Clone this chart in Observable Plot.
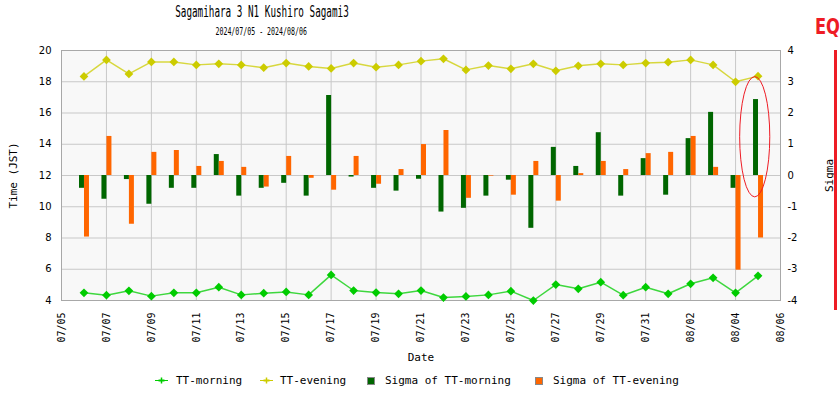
<!DOCTYPE html>
<html>
<head>
<meta charset="utf-8">
<script src="https://cdn.jsdelivr.net/npm/d3@7"></script>
<script src="https://cdn.jsdelivr.net/npm/@observablehq/plot@0.6"></script>
<style>
  html, body { margin: 0; padding: 0; background: #fff; }
  #wrap { position: relative; width: 840px; height: 400px; overflow: hidden; }
  #chart { position: absolute; left: 0; top: 0; }
  .mono { font-family: "DejaVu Sans Mono", monospace; }
  .title { position: absolute; left: 0; width: 523px; text-align: center; white-space: nowrap; color: #000; }
  .title span { display: inline-block; transform: scaleX(0.62); transform-origin: center; }
  #t1 { top: 3px; font-size: 15px; line-height: 18px; }
  #t2 { top: 25px; font-size: 11px; line-height: 13px; }
  #t2 span { transform: scaleX(0.6); }
  #eq { position: absolute; left: 815px; top: 14px; font-family: "DejaVu Sans", sans-serif; font-weight: bold; font-size: 22px; color: #ee1c25; line-height: 26px; transform: scaleX(0.74); transform-origin: left center; white-space: nowrap; }
  #eqbar { position: absolute; left: 834px; top: 50px; width: 3px; height: 260px; background: #ee1c25; }
  .leg { position: absolute; top: 374px; font-family: "DejaVu Sans Mono", monospace; font-size: 11px; line-height: 14px; color: #000; white-space: nowrap; }
  .sw { position: absolute; }
  #chart g[aria-label="x-axis tick label"] text { font-family: "DejaVu Sans Mono", monospace; font-size: 10px; }
  #chart g[aria-label="x-axis label"] text,
  #chart g[aria-label="y-axis label"] text { font-family: "DejaVu Sans Mono", monospace; font-size: 11px; }
</style>
</head>
<body>
<div id="wrap">
  <div id="chart"></div>
  <div class="title mono" id="t1"><span>Sagamihara 3 N1 Kushiro Sagami3</span></div>
  <div class="title mono" id="t2"><span>2024/07/05 - 2024/08/06</span></div>
  <div id="eq">EQ</div>
  <div id="eqbar"></div>
  <div id="legend"></div>
</div>
<script>
// ---- data ----
const dates = [
  "2024-07-06","2024-07-07","2024-07-08","2024-07-09","2024-07-10","2024-07-11","2024-07-12",
  "2024-07-13","2024-07-14","2024-07-15","2024-07-16","2024-07-17","2024-07-18","2024-07-19",
  "2024-07-20","2024-07-21","2024-07-22","2024-07-23","2024-07-24","2024-07-25","2024-07-26",
  "2024-07-27","2024-07-28","2024-07-29","2024-07-30","2024-07-31","2024-08-01","2024-08-02",
  "2024-08-03","2024-08-04","2024-08-05"
];
const ttMorning = [
  4.49, 4.34, 4.62, 4.28, 4.49, 4.49, 4.85, 4.36, 4.47, 4.55, 4.36, 5.64, 4.64, 4.51,
  4.43, 4.64, 4.19, 4.26, 4.36, 4.60, 4.00, 5.02, 4.75, 5.17, 4.34, 4.85, 4.43, 5.07,
  5.45, 4.49, 5.58
];
const ttEvening = [
  18.34, 19.40, 18.50, 19.27, 19.27, 19.08, 19.15, 19.08, 18.90, 19.20, 18.98, 18.85, 19.20, 18.93,
  19.08, 19.32, 19.47, 18.76, 19.04, 18.83, 19.15, 18.70, 19.02, 19.15, 19.08, 19.20, 19.25, 19.40,
  19.08, 18.00, 18.36
];
const sigmaMorning = [
  -0.41, -0.76, -0.13, -0.92, -0.41, -0.41, 0.67, -0.66, -0.41, -0.25, -0.66, 2.56, -0.05, -0.41,
  -0.50, -0.12, -1.17, -1.05, -0.66, -0.15, -1.69, 0.90, 0.29, 1.37, -0.66, 0.54, -0.63, 1.18,
  2.02, -0.41, 2.43
];
const sigmaEvening = [
  -1.97, 1.25, -1.56, 0.74, 0.80, 0.29, 0.45, 0.26, -0.37, 0.61, -0.09, -0.47, 0.61, -0.28,
  0.19, 0.99, 1.44, -0.73, -0.02, -0.63, 0.45, -0.82, 0.06, 0.45, 0.19, 0.70, 0.74, 1.25,
  0.26, -3.03, -2.00
];
const xTicks = [
  "2024-07-05","2024-07-07","2024-07-09","2024-07-11","2024-07-13","2024-07-15","2024-07-17",
  "2024-07-19","2024-07-21","2024-07-23","2024-07-25","2024-07-27","2024-07-29","2024-07-31",
  "2024-08-02","2024-08-04","2024-08-06"
];
const xDomain = ["2024-07-05", "2024-08-06"];
const timeTicks = [4, 6, 8, 10, 12, 14, 16, 18, 20];
const sigmaTicks = [-4, -3, -2, -1, 0, 1, 2, 3, 4];
// EQ annotation (ellipse around the last day's bars)
const eqCenter = "2024-08-04T21:00:00Z";
const eqHalfWidthDays = 0.67;
const eqSigmaRange = [-0.70, 3.15];

// ---- build table ----
const sigmaZeroTime = 12, timePerSigma = 2; // right axis: sigma 0 at 12h, 1 sigma = 2h
const toTime = s => sigmaZeroTime + timePerSigma * s;
const table = dates.map((d, i) => ({
  date: new Date(d),
  morning: ttMorning[i],
  evening: ttEvening[i],
  sm: sigmaMorning[i],
  se: sigmaEvening[i]
}));

const diamond = {
  draw(ctx, size) {
    const h = Math.sqrt(size / Math.PI) * 1.25;
    ctx.moveTo(0, -h); ctx.lineTo(h, 0); ctx.lineTo(0, h); ctx.lineTo(-h, 0); ctx.closePath();
  }
};

const green = "#00cc00", yellow = "#cccc00", dGreen = "#006600", orange = "#ff6600";

const ellipseMark = (index, scales) => {
  const c = new Date(eqCenter);
  const cx = scales.x(c);
  const rx = Math.abs(scales.x(new Date(+c + eqHalfWidthDays * 864e5)) - cx);
  const yTop = scales.y(toTime(eqSigmaRange[1]));
  const yBot = scales.y(toTime(eqSigmaRange[0]));
  const e = document.createElementNS("http://www.w3.org/2000/svg", "ellipse");
  e.setAttribute("cx", cx);
  e.setAttribute("cy", (yTop + yBot) / 2);
  e.setAttribute("rx", rx);
  e.setAttribute("ry", Math.abs(yBot - yTop) / 2);
  e.setAttribute("fill", "none");
  e.setAttribute("stroke", "#ee1c25");
  e.setAttribute("stroke-width", 1);
  return e;
};

const chart = Plot.plot({
  width: 840,
  height: 370,
  marginLeft: 61,
  marginRight: 60,
  marginTop: 50,
  marginBottom: 70,
  style: { fontFamily: "DejaVu Sans, sans-serif", fontSize: "10px", background: "transparent", color: "#000" },
  x: { type: "utc", domain: xDomain.map(d => new Date(d)) },
  y: { domain: [4, 20] },
  marks: [
    Plot.frame({ fill: "#f8f8f8" }),
    Plot.gridX({ ticks: xTicks.map(d => new Date(d)), stroke: "#c8c8c8", strokeOpacity: 1 }),
    Plot.gridY({ ticks: timeTicks, stroke: "#c8c8c8", strokeOpacity: 1 }),
    Plot.frame({ stroke: "#a8a8a8" }),
    Plot.ruleX(table, { x: "date", y1: () => sigmaZeroTime, y2: d => toTime(d.sm), stroke: dGreen, strokeWidth: 5, dx: -2.5 }),
    Plot.ruleX(table, { x: "date", y1: () => sigmaZeroTime, y2: d => toTime(d.se), stroke: orange, strokeWidth: 5, dx: 2.5 }),
    Plot.line(table, { x: "date", y: "evening", stroke: yellow, strokeWidth: 1.5, strokeOpacity: 0.75 }),
    Plot.line(table, { x: "date", y: "morning", stroke: green, strokeWidth: 1.5, strokeOpacity: 0.75 }),
    Plot.dot(table, { x: "date", y: "evening", symbol: diamond, r: 3.5, fill: yellow }),
    Plot.dot(table, { x: "date", y: "morning", symbol: diamond, r: 3.5, fill: green }),
    ellipseMark,
    Plot.axisX({
      ticks: xTicks.map(d => new Date(d)), tickFormat: d3.utcFormat("%m/%d"),
      tickRotate: -90, tickSize: 0, tickPadding: 12,
      label: "Date", labelAnchor: "center", labelArrow: "none", labelOffset: 60
    }),
    Plot.axisY({
      anchor: "left", ticks: timeTicks, tickSize: 0, tickPadding: 10,
      label: "Time (JST)", labelAnchor: "center", labelArrow: "none", labelOffset: 52
    }),
    Plot.axisY({
      anchor: "right", ticks: timeTicks, tickSize: 0, tickPadding: 7,
      tickFormat: t => String(sigmaTicks[timeTicks.indexOf(t)]),
      label: "Sigma", labelAnchor: "center", labelArrow: "none", labelOffset: 52
    })
  ]
});
document.getElementById("chart").appendChild(chart);

// ---- legend ----
const legendItems = [
  { kind: "line", color: green, label: "TT-morning", sx: 155, tx: 176 },
  { kind: "line", color: yellow, label: "TT-evening", sx: 260, tx: 280 },
  { kind: "box", color: dGreen, label: "Sigma of TT-morning", sx: 367, tx: 385 },
  { kind: "box", color: orange, label: "Sigma of TT-evening", sx: 535, tx: 553 }
];
const leg = document.getElementById("legend");
for (const it of legendItems) {
  const s = document.createElementNS("http://www.w3.org/2000/svg", "svg");
  s.setAttribute("class", "sw");
  if (it.kind === "line") {
    s.setAttribute("width", 13); s.setAttribute("height", 9);
    s.style.left = it.sx + "px"; s.style.top = "376px";
    s.innerHTML = `<line x1="0" y1="4.5" x2="13" y2="4.5" stroke="${it.color}" stroke-width="1"/>
      <line x1="6.5" y1="1.5" x2="6.5" y2="7.5" stroke="${it.color}" stroke-width="1.5"/>
      <line x1="3.5" y1="4.5" x2="9.5" y2="4.5" stroke="${it.color}" stroke-width="2"/>`;
  } else {
    s.setAttribute("width", 8); s.setAttribute("height", 8);
    s.style.left = it.sx + "px"; s.style.top = "377px";
    s.innerHTML = `<rect x="0.5" y="0.5" width="7" height="7" fill="${it.color}" stroke="#888" stroke-width="1"/>`;
  }
  leg.appendChild(s);
  const t = document.createElement("div");
  t.className = "leg";
  t.style.left = it.tx + "px";
  t.textContent = it.label;
  leg.appendChild(t);
}
</script>
</body>
</html>
